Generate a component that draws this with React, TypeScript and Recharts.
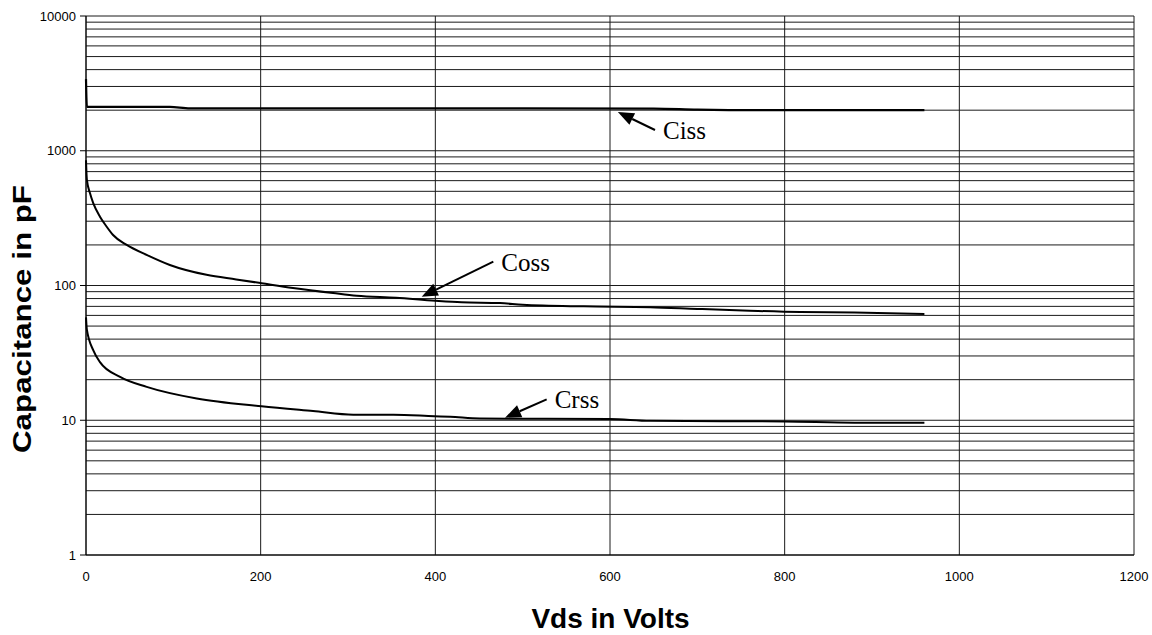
import React from "react";
import { LineChart, Line, XAxis, YAxis, CartesianGrid, ReferenceLine } from "recharts";

const xTicks = [0, 200, 400, 600, 800, 1000, 1200];
const yTicks = [
  1, 2, 3, 4, 5, 6, 7, 8, 9,
  10, 20, 30, 40, 50, 60, 70, 80, 90,
  100, 200, 300, 400, 500, 600, 700, 800, 900,
  1000, 2000, 3000, 4000, 5000, 6000, 7000, 8000, 9000,
  10000,
];
const yLabels = [1, 10, 100, 1000, 10000];

const cissData = [
  { v: 0, c: 3400 }, { v: 1, c: 2120 }, { v: 50, c: 2120 }, { v: 96, c: 2115 },
  { v: 119, c: 2060 }, { v: 300, c: 2060 }, { v: 500, c: 2060 }, { v: 650, c: 2055 },
  { v: 700, c: 2020 }, { v: 740, c: 2005 }, { v: 850, c: 2000 }, { v: 960, c: 2000 },
];

const cossData = [
  { v: 0, c: 850 }, { v: 1, c: 610 }, { v: 4.6, c: 483 }, { v: 8.4, c: 407 },
  { v: 16, c: 324 }, { v: 23.7, c: 273 }, { v: 31, c: 237 }, { v: 46.6, c: 200 },
  { v: 70, c: 168 }, { v: 96, c: 142 }, { v: 138, c: 120 }, { v: 172, c: 111 },
  { v: 201, c: 104 }, { v: 237, c: 96 }, { v: 283, c: 88 }, { v: 310, c: 84 },
  { v: 355, c: 81 }, { v: 400, c: 77 }, { v: 430, c: 75 }, { v: 474, c: 74 },
  { v: 500, c: 72 }, { v: 570, c: 70 }, { v: 646, c: 69 }, { v: 700, c: 67 },
  { v: 760, c: 65 }, { v: 818, c: 63.5 }, { v: 880, c: 63 }, { v: 960, c: 61.5 },
];

const crssData = [
  { v: 0, c: 58 }, { v: 1, c: 47 }, { v: 8.4, c: 33 }, { v: 16, c: 27 },
  { v: 39, c: 21 }, { v: 69.5, c: 17.7 }, { v: 126.8, c: 14.5 }, { v: 201, c: 12.7 },
  { v: 260, c: 11.7 }, { v: 306, c: 11.0 }, { v: 352, c: 11.0 }, { v: 399, c: 10.7 },
  { v: 417, c: 10.6 }, { v: 451, c: 10.3 }, { v: 600, c: 10.2 }, { v: 646, c: 9.9 },
  { v: 800, c: 9.8 }, { v: 880, c: 9.6 }, { v: 960, c: 9.6 },
];

// annotation arrows: tip point (on curve) and tail point, in data coordinates
const annotations = [
  { label: "Ciss", tip: { x: 609, y: 1939 }, tail: { x: 651.5, y: 1426 } },
  { label: "Coss", tip: { x: 384.4, y: 82.6 }, tail: { x: 466.4, y: 150.2 } },
  { label: "Crss", tip: { x: 479.8, y: 10.44 }, tail: { x: 527.5, y: 14.3 } },
];

const sans = "'Liberation Sans', Arial, sans-serif";
const serif = "'Liberation Serif', 'Times New Roman', serif";

const YTick = (props: any) => {
  const { x, y, payload } = props;
  if (!yLabels.includes(payload.value)) return null;
  return (
    <g>
      <line x1={x - 6} y1={y} x2={x} y2={y} stroke="#000" strokeWidth={1} />
      <text x={x - 10} y={y} dy="0.36em" textAnchor="end" fontFamily={sans} fontSize={13} fill="#000">
        {payload.value}
      </text>
    </g>
  );
};

const XTick = (props: any) => {
  const { x, y, payload } = props;
  return (
    <text x={x} y={y + 26} textAnchor="middle" fontFamily={sans} fontSize={13} fill="#000">
      {payload.value}
    </text>
  );
};

const makeArrow = (label: string) => (props: any) => {
  const { x1, y1, x2, y2 } = props;
  if (x1 == null) return null;
  const dx = x2 - x1;
  const dy = y2 - y1;
  const len = Math.sqrt(dx * dx + dy * dy);
  const ux = dx / len;
  const uy = dy / len;
  const hl = 16;
  const hw = 6.5;
  const bx = x1 + ux * hl;
  const by = y1 + uy * hl;
  const px = -uy;
  const py = ux;
  return (
    <g>
      <line x1={bx} y1={by} x2={x2} y2={y2} stroke="#000" strokeWidth={2} />
      <polygon
        points={`${x1},${y1} ${bx + px * hw},${by + py * hw} ${bx - px * hw},${by - py * hw}`}
        fill="#000"
      />
      <text x={x2 + 8} y={y2 + 9} fontFamily={serif} fontSize={25} fill="#000">
        {label}
      </text>
    </g>
  );
};

export default function App() {
  return (
    <div style={{ position: "absolute", left: 0, top: 0, width: 1152, height: 635, background: "#fff" }}>
      <LineChart width={1152} height={635} margin={{ top: 16, right: 18, left: 0, bottom: 0 }}>
        <CartesianGrid stroke="#1a1a1a" strokeWidth={1} />
        <XAxis
          type="number"
          dataKey="v"
          domain={[0, 1200]}
          ticks={xTicks}
          interval={0}
          tickSize={0}
          tickMargin={0}
          height={80}
          stroke="#000"
          tick={<XTick />}
        />
        <YAxis
          type="number"
          scale="log"
          domain={[1, 10000]}
          allowDataOverflow
          ticks={yTicks}
          interval={0}
          tickSize={0}
          tickMargin={0}
          width={86}
          stroke="#000"
          tick={<YTick />}
        />
        <Line data={cissData} dataKey="c" type="monotone" stroke="#000" strokeWidth={2.2} dot={false} isAnimationActive={false} />
        <Line data={cossData} dataKey="c" type="monotone" stroke="#000" strokeWidth={2} dot={false} isAnimationActive={false} />
        <Line data={crssData} dataKey="c" type="monotone" stroke="#000" strokeWidth={2} dot={false} isAnimationActive={false} />
        {annotations.map((a) => (
          <ReferenceLine key={a.label} segment={[a.tip, a.tail]} shape={makeArrow(a.label)} ifOverflow="visible" />
        ))}
        <text x={610.5} y={628} textAnchor="middle" fontFamily={sans} fontWeight="bold" fontSize={28} fill="#000">
          Vds in Volts
        </text>
        <text
          x={31}
          y={319}
          textAnchor="middle"
          fontFamily={sans}
          fontWeight="bold"
          fontSize={26}
          fill="#000"
          textLength={268}
          lengthAdjust="spacingAndGlyphs"
          transform="rotate(-90, 31, 319)"
        >
          Capacitance in pF
        </text>
      </LineChart>
    </div>
  );
}
